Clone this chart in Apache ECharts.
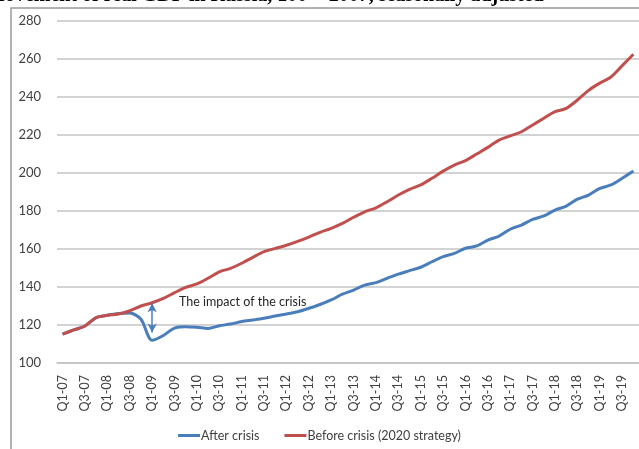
<!DOCTYPE html>
<html>
<head>
<meta charset="utf-8">
<script src="https://cdn.jsdelivr.net/npm/echarts@6/dist/echarts.min.js"></script>
<style>
  html, body { margin: 0; padding: 0; background: #fff; }
  #chart { width: 639px; height: 449px; }
</style>
</head>
<body>
<div id="chart"></div>
<script>
// quarterly labels Q1-07 .. Q4-19
const quarters = [];
for (let y = 7; y <= 19; y++) {
  const yy = (y < 10 ? '0' : '') + y;
  for (let q = 1; q <= 4; q++) quarters.push('Q' + q + '-' + yy);
}

const afterCrisis = [
  115.2, 117.4, 119.5, 123.9, 125.1, 126.0, 126.3, 123.0, 112.0, 114.5,
  118.4, 119.1, 118.8, 118.2, 119.6, 120.5, 121.8, 122.6, 123.5, 124.7,
  125.8, 127.0, 128.8, 130.8, 133.2, 136.2, 138.4, 141.0, 142.3, 144.6,
  146.8, 148.6, 150.4, 153.3, 156.0, 157.7, 160.4, 161.6, 164.7, 166.8,
  170.4, 172.6, 175.6, 177.4, 180.5, 182.6, 186.2, 188.4, 191.9, 193.7,
  197.2, 201.0
];

const beforeCrisis = [
  115.2, 117.4, 119.5, 123.9, 125.1, 125.8, 127.5, 130.0, 131.7, 134.0,
  137.0, 139.8, 141.6, 144.6, 148.0, 149.8, 152.5, 155.6, 158.6, 160.3,
  162.0, 164.0, 166.3, 168.8, 170.9, 173.5, 176.7, 179.6, 181.7, 184.9,
  188.4, 191.4, 193.7, 197.2, 201.0, 204.2, 206.5, 210.0, 213.5, 217.3,
  219.5, 221.7, 225.3, 228.8, 232.3, 234.0, 238.4, 243.5, 247.3, 250.5,
  256.5, 262.5
];

const seriesNames = ['After crisis', 'Before crisis (2020 strategy)'];
const labelFont = 'Lato';

const myChart = echarts.init(document.getElementById('chart'));
myChart.setOption({
  animation: false,
  backgroundColor: '#fff',
  graphic: [
    {
      type: 'rect',
      shape: { x: 11, y: 8, width: 700, height: 500 },
      style: { fill: 'none', stroke: '#9a9a9a', lineWidth: 1.5 },
      silent: true
    },
    {
      // page title, cut off by the top edge of the picture
      type: 'text',
      left: -14,
      top: -14,
      style: {
        text: 'Movement of real GDP in Russia, 100 = 2007, seasonally adjusted',
        font: 'bold 20px "Liberation Serif"',
        fill: '#000'
      },
      silent: true
    },
    {
      type: 'text',
      left: 179,
      top: 295,
      style: {
        text: 'The impact of the crisis',
        font: '12.5px ' + labelFont,
        fill: '#262626'
      },
      silent: true
    }
  ],
  grid: { left: 57, right: -3, top: 21, bottom: 86, containLabel: false },
  legend: {
    data: seriesNames,
    bottom: 2,
    left: 'center',
    icon: 'rect',
    itemWidth: 22,
    itemHeight: 3,
    itemGap: 25,
    textStyle: { fontFamily: labelFont, fontSize: 12.5, color: '#404040', padding: [0, 0, 0, -4] }
  },
  xAxis: {
    type: 'category',
    data: quarters,
    boundaryGap: true,
    axisLine: { lineStyle: { color: '#c4c4c4', width: 1.5 } },
    axisTick: { show: false },
    axisLabel: {
      interval: 1,
      rotate: 90,
      margin: 12,
      fontFamily: labelFont,
      fontSize: 12.5,
      color: '#404040'
    }
  },
  yAxis: {
    type: 'value',
    min: 100,
    max: 280,
    interval: 20,
    axisLine: { show: false },
    axisTick: { show: false },
    axisLabel: { margin: 16, fontFamily: labelFont, fontSize: 13, color: '#404040' },
    splitLine: { lineStyle: { color: '#c4c4c4', width: 1.5 } }
  },
  series: [
    {
      name: seriesNames[0],
      type: 'line',
      data: afterCrisis,
      smooth: 0.3,
      showSymbol: false,
      lineStyle: { color: '#4a7ebb', width: 3 },
      itemStyle: { color: '#4a7ebb' },
      markLine: {
        silent: true,
        symbol: ['arrow', 'arrow'],
        symbolSize: [7, 9],
        label: { show: false },
        lineStyle: { color: '#4a7ebb', width: 1.5, type: 'solid' },
        data: [[{ coord: [8, 131.4] }, { coord: [8, 116] }]]
      }
    },
    {
      name: seriesNames[1],
      type: 'line',
      data: beforeCrisis,
      smooth: 0.3,
      showSymbol: false,
      lineStyle: { color: '#c0504d', width: 3 },
      itemStyle: { color: '#c0504d' }
    }
  ]
});
</script>
</body>
</html>
